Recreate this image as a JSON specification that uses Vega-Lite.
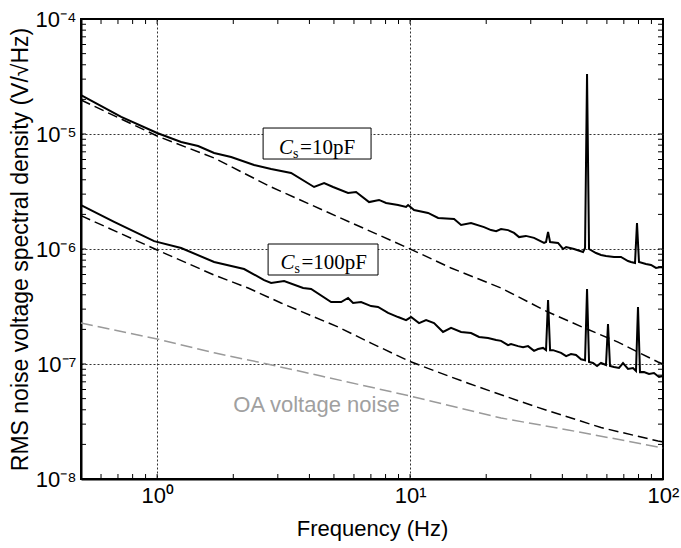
{
  "$schema": "https://vega.github.io/schema/vega-lite/v6.json",
  "width": 582,
  "height": 460,
  "autosize": {"type": "none"},
  "padding": {"left": 81, "top": 19, "right": 18, "bottom": 69},
  "background": "white",
  "config": {
    "view": {"stroke": "#000", "strokeWidth": 2},
    "font": "Liberation Sans",
    "axis": {
      "domainColor": "#000",
      "domainWidth": 2,
      "labelFont": "Liberation Sans",
      "labelFontSize": 22,
      "labelColor": "#000",
      "labelOverlap": false,
      "labelBound": false,
      "labelFlush": false,
      "titleFont": "Liberation Sans",
      "titleFontSize": 22,
      "titleFontWeight": "normal",
      "titleColor": "#000",
      "gridColor": "#333",
      "gridDash": [2, 2],
      "gridWidth": 1
    }
  },
  "datasets": {
    "curves": [
      {"s": "s10", "f": 0.5, "v": 2.18e-5}, {"s": "s10", "f": 0.721, "v": 1.41e-5}, {"s": "s10", "f": 1, "v": 1.02e-5},
      {"s": "s10", "f": 1.244, "v": 8.52e-6}, {"s": "s10", "f": 1.452, "v": 7.86e-6}, {"s": "s10", "f": 1.68, "v": 6.84e-6},
      {"s": "s10", "f": 1.961, "v": 6.31e-6}, {"s": "s10", "f": 2.417, "v": 5.37e-6}, {"s": "s10", "f": 2.823, "v": 4.96e-6},
      {"s": "s10", "f": 3.385, "v": 4.58e-6}, {"s": "s10", "f": 4.174, "v": 3.46e-6}, {"s": "s10", "f": 4.573, "v": 3.75e-6},
      {"s": "s10", "f": 4.962, "v": 3.46e-6}, {"s": "s10", "f": 5.687, "v": 3.07e-6}, {"s": "s10", "f": 6.117, "v": 3.13e-6},
      {"s": "s10", "f": 6.885, "v": 2.56e-6}, {"s": "s10", "f": 7.54, "v": 2.67e-6}, {"s": "s10", "f": 8.037, "v": 2.51e-6},
      {"s": "s10", "f": 8.966, "v": 2.41e-6}, {"s": "s10", "f": 9.643, "v": 2.32e-6}, {"s": "s10", "f": 9.82, "v": 2.41e-6},
      {"s": "s10", "f": 10.37, "v": 2.18e-6}, {"s": "s10", "f": 11.78, "v": 2.06e-6}, {"s": "s10", "f": 12.91, "v": 1.86e-6},
      {"s": "s10", "f": 14.93, "v": 1.82e-6}, {"s": "s10", "f": 15.91, "v": 1.62e-6}, {"s": "s10", "f": 17.42, "v": 1.68e-6},
      {"s": "s10", "f": 19.61, "v": 1.55e-6}, {"s": "s10", "f": 20.9, "v": 1.46e-6}, {"s": "s10", "f": 21.9, "v": 1.43e-6},
      {"s": "s10", "f": 22.89, "v": 1.49e-6}, {"s": "s10", "f": 24.4, "v": 1.46e-6}, {"s": "s10", "f": 25.77, "v": 1.38e-6},
      {"s": "s10", "f": 26.97, "v": 1.27e-6}, {"s": "s10", "f": 28.7, "v": 1.3e-6}, {"s": "s10", "f": 30.91, "v": 1.25e-6},
      {"s": "s10", "f": 33.86, "v": 1.13e-6}, {"s": "s10", "f": 34.48, "v": 1.15e-6}, {"s": "s10", "f": 35.12, "v": 1.41e-6},
      {"s": "s10", "f": 35.77, "v": 1.15e-6}, {"s": "s10", "f": 38.46, "v": 1.13e-6}, {"s": "s10", "f": 40.25, "v": 1.0e-6},
      {"s": "s10", "f": 41.4, "v": 1.04e-6}, {"s": "s10", "f": 44.48, "v": 1.0e-6}, {"s": "s10", "f": 48.29, "v": 9.42e-7},
      {"s": "s10", "f": 49.18, "v": 1.02e-6}, {"s": "s10", "f": 50.08, "v": 3.32e-5}, {"s": "s10", "f": 51.0, "v": 1.0e-6},
      {"s": "s10", "f": 54.35, "v": 9.23e-7}, {"s": "s10", "f": 56.87, "v": 8.87e-7}, {"s": "s10", "f": 59.51, "v": 8.69e-7},
      {"s": "s10", "f": 64.02, "v": 8.52e-7}, {"s": "s10", "f": 68.2, "v": 8.52e-7}, {"s": "s10", "f": 72.73, "v": 7.86e-7},
      {"s": "s10", "f": 74.7, "v": 7.71e-7}, {"s": "s10", "f": 77.5, "v": 7.55e-7}, {"s": "s10", "f": 78.92, "v": 1.68e-6},
      {"s": "s10", "f": 80.36, "v": 7.7e-7}, {"s": "s10", "f": 85.6, "v": 7.41e-7}, {"s": "s10", "f": 89.67, "v": 7.26e-7},
      {"s": "s10", "f": 93.8, "v": 6.84e-7}, {"s": "s10", "f": 98.2, "v": 6.98e-7}, {"s": "s10", "f": 100, "v": 6.84e-7},

      {"s": "s100", "f": 0.5, "v": 2.41e-6}, {"s": "s100", "f": 0.676, "v": 1.72e-6}, {"s": "s100", "f": 0.973, "v": 1.17e-6},
      {"s": "s100", "f": 1.244, "v": 1.02e-6}, {"s": "s100", "f": 1.68, "v": 7.71e-7}, {"s": "s100", "f": 2.207, "v": 6.7e-7},
      {"s": "s100", "f": 2.648, "v": 5.37e-7}, {"s": "s100", "f": 2.823, "v": 5.06e-7}, {"s": "s100", "f": 3.177, "v": 5.27e-7},
      {"s": "s100", "f": 3.777, "v": 4.58e-7}, {"s": "s100", "f": 4.062, "v": 4.49e-7}, {"s": "s100", "f": 4.873, "v": 3.46e-7},
      {"s": "s100", "f": 5.338, "v": 3.46e-7}, {"s": "s100", "f": 5.687, "v": 3.75e-7}, {"s": "s100", "f": 5.952, "v": 3.39e-7},
      {"s": "s100", "f": 6.401, "v": 3.46e-7}, {"s": "s100", "f": 7.012, "v": 3.19e-7}, {"s": "s100", "f": 7.47, "v": 3.13e-7},
      {"s": "s100", "f": 8.185, "v": 2.78e-7}, {"s": "s100", "f": 8.966, "v": 2.56e-7}, {"s": "s100", "f": 9.643, "v": 2.41e-7},
      {"s": "s100", "f": 10.09, "v": 2.56e-7}, {"s": "s100", "f": 10.85, "v": 2.27e-7}, {"s": "s100", "f": 11.57, "v": 2.41e-7},
      {"s": "s100", "f": 12.44, "v": 2.27e-7}, {"s": "s100", "f": 13.5, "v": 1.9e-7}, {"s": "s100", "f": 14.52, "v": 2.06e-7},
      {"s": "s100", "f": 15.91, "v": 1.9e-7}, {"s": "s100", "f": 17.42, "v": 1.86e-7}, {"s": "s100", "f": 18.74, "v": 1.72e-7},
      {"s": "s100", "f": 20.34, "v": 1.68e-7}, {"s": "s100", "f": 21.9, "v": 1.62e-7}, {"s": "s100", "f": 22.89, "v": 1.59e-7},
      {"s": "s100", "f": 24.4, "v": 1.46e-7}, {"s": "s100", "f": 25.07, "v": 1.49e-7}, {"s": "s100", "f": 26.73, "v": 1.43e-7},
      {"s": "s100", "f": 27.97, "v": 1.4e-7}, {"s": "s100", "f": 29.27, "v": 1.43e-7}, {"s": "s100", "f": 30.91, "v": 1.3e-7},
      {"s": "s100", "f": 32.06, "v": 1.35e-7}, {"s": "s100", "f": 33.56, "v": 1.38e-7}, {"s": "s100", "f": 34.48, "v": 1.32e-7},
      {"s": "s100", "f": 35.12, "v": 3.6e-7}, {"s": "s100", "f": 35.77, "v": 1.32e-7}, {"s": "s100", "f": 36.75, "v": 1.32e-7},
      {"s": "s100", "f": 39.53, "v": 1.25e-7}, {"s": "s100", "f": 41.4, "v": 1.17e-7}, {"s": "s100", "f": 43.28, "v": 1.22e-7},
      {"s": "s100", "f": 45.3, "v": 1.2e-7}, {"s": "s100", "f": 47.42, "v": 1.1e-7}, {"s": "s100", "f": 49.18, "v": 1.08e-7},
      {"s": "s100", "f": 50.08, "v": 4.49e-7}, {"s": "s100", "f": 51.0, "v": 1.04e-7}, {"s": "s100", "f": 52.89, "v": 1.02e-7},
      {"s": "s100", "f": 54.85, "v": 9.61e-8}, {"s": "s100", "f": 56.87, "v": 1.02e-7}, {"s": "s100", "f": 59.51, "v": 9.8e-8},
      {"s": "s100", "f": 60.61, "v": 2.23e-7}, {"s": "s100", "f": 61.73, "v": 9.6e-8}, {"s": "s100", "f": 64.02, "v": 9.42e-8},
      {"s": "s100", "f": 66.99, "v": 9.23e-8}, {"s": "s100", "f": 69.49, "v": 1.02e-7}, {"s": "s100", "f": 72.73, "v": 9.05e-8},
      {"s": "s100", "f": 76.1, "v": 9.23e-8}, {"s": "s100", "f": 78.2, "v": 8.7e-8}, {"s": "s100", "f": 79.64, "v": 3.13e-7},
      {"s": "s100", "f": 81.1, "v": 8.5e-8}, {"s": "s100", "f": 84.12, "v": 8.52e-8}, {"s": "s100", "f": 88.05, "v": 8.18e-8},
      {"s": "s100", "f": 92.13, "v": 8.35e-8}, {"s": "s100", "f": 96.43, "v": 7.71e-8}, {"s": "s100", "f": 100, "v": 7.86e-8},

      {"s": "d10", "f": 0.5, "v": 1.975e-5}, {"s": "d10", "f": 1, "v": 9.61e-6}, {"s": "d10", "f": 1.68, "v": 6.18e-6},
      {"s": "d10", "f": 2.823, "v": 3.46e-6}, {"s": "d10", "f": 5.194, "v": 1.9e-6}, {"s": "d10", "f": 9.82, "v": 1.02e-6},
      {"s": "d10", "f": 14.52, "v": 6.84e-7}, {"s": "d10", "f": 22.89, "v": 4.58e-7}, {"s": "d10", "f": 35.12, "v": 2.83e-7},
      {"s": "d10", "f": 48.8, "v": 2.06e-7}, {"s": "d10", "f": 66.39, "v": 1.55e-7}, {"s": "d10", "f": 95.54, "v": 1.04e-7},
      {"s": "d10", "f": 100, "v": 1.0e-7},

      {"s": "d100", "f": 0.5, "v": 1.95e-6}, {"s": "d100", "f": 1, "v": 9.8e-7}, {"s": "d100", "f": 1.68, "v": 5.94e-7},
      {"s": "d100", "f": 2.29, "v": 4.58e-7}, {"s": "d100", "f": 3.09, "v": 3.39e-7}, {"s": "d100", "f": 5.19, "v": 2.1e-7},
      {"s": "d100", "f": 7.01, "v": 1.52e-7}, {"s": "d100", "f": 10, "v": 1.05e-7}, {"s": "d100", "f": 12.9, "v": 8.5e-8},
      {"s": "d100", "f": 16.96, "v": 6.8e-8}, {"s": "d100", "f": 22.89, "v": 5.4e-8}, {"s": "d100", "f": 30.91, "v": 4.3e-8},
      {"s": "d100", "f": 56.87, "v": 2.8e-8}, {"s": "d100", "f": 95.54, "v": 2.14e-8}, {"s": "d100", "f": 100, "v": 2.1e-8},

      {"s": "oa", "f": 0.5, "v": 2.27e-7}, {"s": "oa", "f": 1, "v": 1.65e-7}, {"s": "oa", "f": 1.68, "v": 1.25e-7},
      {"s": "oa", "f": 2.507, "v": 1.04e-7}, {"s": "oa", "f": 3.71, "v": 8.6e-8}, {"s": "oa", "f": 4.45, "v": 7.86e-8},
      {"s": "oa", "f": 10, "v": 5.27e-8}, {"s": "oa", "f": 22.89, "v": 3.39e-8}, {"s": "oa", "f": 42.12, "v": 2.67e-8},
      {"s": "oa", "f": 95.54, "v": 1.9e-8}, {"s": "oa", "f": 100, "v": 1.86e-8}
    ],
    "xticks": [
      {"f": 0.6, "v": 1e-8}, {"f": 0.7, "v": 1e-8}, {"f": 0.8, "v": 1e-8}, {"f": 0.9, "v": 1e-8}, {"f": 1, "v": 1e-8},
      {"f": 2, "v": 1e-8}, {"f": 3, "v": 1e-8}, {"f": 4, "v": 1e-8}, {"f": 5, "v": 1e-8}, {"f": 6, "v": 1e-8},
      {"f": 7, "v": 1e-8}, {"f": 8, "v": 1e-8}, {"f": 9, "v": 1e-8}, {"f": 10, "v": 1e-8}, {"f": 20, "v": 1e-8},
      {"f": 30, "v": 1e-8}, {"f": 40, "v": 1e-8}, {"f": 50, "v": 1e-8}, {"f": 60, "v": 1e-8}, {"f": 70, "v": 1e-8},
      {"f": 80, "v": 1e-8}, {"f": 90, "v": 1e-8}
    ],
    "xticksTop": [
      {"f": 0.6, "v": 1e-4}, {"f": 0.7, "v": 1e-4}, {"f": 0.8, "v": 1e-4}, {"f": 0.9, "v": 1e-4}, {"f": 1, "v": 1e-4},
      {"f": 2, "v": 1e-4}, {"f": 3, "v": 1e-4}, {"f": 4, "v": 1e-4}, {"f": 5, "v": 1e-4}, {"f": 6, "v": 1e-4},
      {"f": 7, "v": 1e-4}, {"f": 8, "v": 1e-4}, {"f": 9, "v": 1e-4}, {"f": 10, "v": 1e-4}, {"f": 20, "v": 1e-4},
      {"f": 30, "v": 1e-4}, {"f": 40, "v": 1e-4}, {"f": 50, "v": 1e-4}, {"f": 60, "v": 1e-4}, {"f": 70, "v": 1e-4},
      {"f": 80, "v": 1e-4}, {"f": 90, "v": 1e-4}
    ],
    "yticksLeft": [
      {"f": 0.5, "v": 2e-8}, {"f": 0.5, "v": 3e-8}, {"f": 0.5, "v": 4e-8}, {"f": 0.5, "v": 5e-8}, {"f": 0.5, "v": 6e-8}, {"f": 0.5, "v": 7e-8}, {"f": 0.5, "v": 8e-8}, {"f": 0.5, "v": 9e-8},
      {"f": 0.5, "v": 1e-7}, {"f": 0.5, "v": 2e-7}, {"f": 0.5, "v": 3e-7}, {"f": 0.5, "v": 4e-7}, {"f": 0.5, "v": 5e-7}, {"f": 0.5, "v": 6e-7}, {"f": 0.5, "v": 7e-7}, {"f": 0.5, "v": 8e-7}, {"f": 0.5, "v": 9e-7},
      {"f": 0.5, "v": 1e-6}, {"f": 0.5, "v": 2e-6}, {"f": 0.5, "v": 3e-6}, {"f": 0.5, "v": 4e-6}, {"f": 0.5, "v": 5e-6}, {"f": 0.5, "v": 6e-6}, {"f": 0.5, "v": 7e-6}, {"f": 0.5, "v": 8e-6}, {"f": 0.5, "v": 9e-6},
      {"f": 0.5, "v": 1e-5}, {"f": 0.5, "v": 2e-5}, {"f": 0.5, "v": 3e-5}, {"f": 0.5, "v": 4e-5}, {"f": 0.5, "v": 5e-5}, {"f": 0.5, "v": 6e-5}, {"f": 0.5, "v": 7e-5}, {"f": 0.5, "v": 8e-5}, {"f": 0.5, "v": 9e-5}
    ],
    "yticksRight": [
      {"f": 100, "v": 2e-8}, {"f": 100, "v": 3e-8}, {"f": 100, "v": 4e-8}, {"f": 100, "v": 5e-8}, {"f": 100, "v": 6e-8}, {"f": 100, "v": 7e-8}, {"f": 100, "v": 8e-8}, {"f": 100, "v": 9e-8},
      {"f": 100, "v": 1e-7}, {"f": 100, "v": 2e-7}, {"f": 100, "v": 3e-7}, {"f": 100, "v": 4e-7}, {"f": 100, "v": 5e-7}, {"f": 100, "v": 6e-7}, {"f": 100, "v": 7e-7}, {"f": 100, "v": 8e-7}, {"f": 100, "v": 9e-7},
      {"f": 100, "v": 1e-6}, {"f": 100, "v": 2e-6}, {"f": 100, "v": 3e-6}, {"f": 100, "v": 4e-6}, {"f": 100, "v": 5e-6}, {"f": 100, "v": 6e-6}, {"f": 100, "v": 7e-6}, {"f": 100, "v": 8e-6}, {"f": 100, "v": 9e-6},
      {"f": 100, "v": 1e-5}, {"f": 100, "v": 2e-5}, {"f": 100, "v": 3e-5}, {"f": 100, "v": 4e-5}, {"f": 100, "v": 5e-5}, {"f": 100, "v": 6e-5}, {"f": 100, "v": 7e-5}, {"f": 100, "v": 8e-5}, {"f": 100, "v": 9e-5}
    ],
    "boxes": [
      {"x1": 2.624, "x2": 7.01, "y1": 6.06e-6, "y2": 1.127e-5},
      {"x1": 2.746, "x2": 7.47, "y1": 5.94e-7, "y2": 1.105e-6}
    ],
    "boxlabels": [
      {"f": 3.035, "v": 6.7e-6, "c": "C", "sub": "s", "rest": "=10pF"},
      {"f": 3.072, "v": 6.64e-7, "c": "C", "sub": "s", "rest": "=100pF"}
    ],
    "oalabel": [
      {"f": 2.0, "v": 3.83e-8, "t": "OA voltage noise"}
    ]
  },
  "layer": [
    {
      "data": {"name": "curves"},
      "transform": [{"filter": "datum.s == 'oa'"}],
      "mark": {"type": "line", "color": "#9a9a9a", "strokeWidth": 1.5, "strokeDash": [12, 5]},
      "encoding": {
        "x": {
          "field": "f", "type": "quantitative",
          "scale": {"type": "log", "domain": [0.5, 100], "nice": false},
          "axis": {
            "orient": "bottom",
            "values": [1, 10, 100],
            "ticks": false,
            "labelExpr": "datum.value == 1 ? '10⁰' : datum.value == 10 ? '10¹' : datum.value == 100 ? '10²' : ''",
            "labelPadding": 6,
            "grid": true,
            "gridOpacity": {"condition": {"test": "datum.value == 1 || datum.value == 10", "value": 1}, "value": 0},
            "title": "Frequency (Hz)",
            "titlePadding": 12
          }
        },
        "y": {
          "field": "v", "type": "quantitative",
          "scale": {"type": "log", "domain": [1e-8, 1e-4], "nice": false},
          "axis": {
            "orient": "left",
            "values": [1e-8, 1e-7, 1e-6, 1e-5, 1e-4],
            "ticks": false,
            "labelExpr": "datum.value == 1e-4 ? '10⁻⁴' : datum.value == 1e-5 ? '10⁻⁵' : datum.value == 1e-6 ? '10⁻⁶' : datum.value == 1e-7 ? '10⁻⁷' : datum.value == 1e-8 ? '10⁻⁸' : ''",
            "labelPadding": 5,
            "grid": true,
            "gridOpacity": {"condition": {"test": "datum.value == 1e-5 || datum.value == 1e-6 || datum.value == 1e-7", "value": 1}, "value": 0},
            "title": "RMS noise voltage spectral density (V/√Hz)",
            "titleFontSize": 23,
            "titlePadding": 3
          }
        }
      }
    },
    {
      "data": {"name": "curves"},
      "transform": [{"filter": "datum.s == 'd10' || datum.s == 'd100'"}],
      "mark": {"type": "line", "color": "#000", "strokeWidth": 1.5, "strokeDash": [10, 5]},
      "encoding": {
        "x": {"field": "f", "type": "quantitative", "scale": {"type": "log", "domain": [0.5, 100], "nice": false}},
        "y": {"field": "v", "type": "quantitative", "scale": {"type": "log", "domain": [1e-8, 1e-4], "nice": false}},
        "detail": {"field": "s"}
      }
    },
    {
      "data": {"name": "curves"},
      "transform": [{"filter": "datum.s == 's10' || datum.s == 's100'"}],
      "mark": {"type": "line", "color": "#000", "strokeWidth": 2},
      "encoding": {
        "x": {"field": "f", "type": "quantitative", "scale": {"type": "log", "domain": [0.5, 100], "nice": false}},
        "y": {"field": "v", "type": "quantitative", "scale": {"type": "log", "domain": [1e-8, 1e-4], "nice": false}},
        "detail": {"field": "s"}
      }
    },
    {
      "data": {"name": "xticks"},
      "mark": {"type": "tick", "orient": "vertical", "size": 5, "thickness": 1, "color": "#000", "opacity": 1, "yOffset": -2.5},
      "encoding": {
        "x": {"field": "f", "type": "quantitative", "scale": {"type": "log", "domain": [0.5, 100], "nice": false}},
        "y": {"field": "v", "type": "quantitative", "scale": {"type": "log", "domain": [1e-8, 1e-4], "nice": false}}
      }
    },
    {
      "data": {"name": "xticksTop"},
      "mark": {"type": "tick", "orient": "vertical", "size": 5, "thickness": 1, "color": "#000", "opacity": 1, "yOffset": 2.5},
      "encoding": {
        "x": {"field": "f", "type": "quantitative", "scale": {"type": "log", "domain": [0.5, 100], "nice": false}},
        "y": {"field": "v", "type": "quantitative", "scale": {"type": "log", "domain": [1e-8, 1e-4], "nice": false}}
      }
    },
    {
      "data": {"name": "yticksLeft"},
      "mark": {"type": "tick", "orient": "horizontal", "size": 5, "thickness": 1, "color": "#000", "opacity": 1, "xOffset": 2.5},
      "encoding": {
        "x": {"field": "f", "type": "quantitative", "scale": {"type": "log", "domain": [0.5, 100], "nice": false}},
        "y": {"field": "v", "type": "quantitative", "scale": {"type": "log", "domain": [1e-8, 1e-4], "nice": false}}
      }
    },
    {
      "data": {"name": "yticksRight"},
      "mark": {"type": "tick", "orient": "horizontal", "size": 5, "thickness": 1, "color": "#000", "opacity": 1, "xOffset": -2.5},
      "encoding": {
        "x": {"field": "f", "type": "quantitative", "scale": {"type": "log", "domain": [0.5, 100], "nice": false}},
        "y": {"field": "v", "type": "quantitative", "scale": {"type": "log", "domain": [1e-8, 1e-4], "nice": false}}
      }
    },
    {
      "data": {"name": "boxes"},
      "mark": {"type": "rect", "fill": "white", "stroke": "#000", "strokeWidth": 1},
      "encoding": {
        "x": {"field": "x1", "type": "quantitative", "scale": {"type": "log", "domain": [0.5, 100], "nice": false}},
        "x2": {"field": "x2"},
        "y": {"field": "y1", "type": "quantitative", "scale": {"type": "log", "domain": [1e-8, 1e-4], "nice": false}},
        "y2": {"field": "y2"}
      }
    },
    {
      "data": {"name": "boxlabels"},
      "mark": {"type": "text", "font": "Liberation Serif", "fontSize": 21, "fontStyle": "italic", "align": "left", "baseline": "alphabetic", "color": "#000"},
      "encoding": {
        "x": {"field": "f", "type": "quantitative", "scale": {"type": "log", "domain": [0.5, 100], "nice": false}},
        "y": {"field": "v", "type": "quantitative", "scale": {"type": "log", "domain": [1e-8, 1e-4], "nice": false}},
        "text": {"field": "c"}
      }
    },
    {
      "data": {"name": "boxlabels"},
      "mark": {"type": "text", "font": "Liberation Serif", "fontSize": 14, "align": "left", "baseline": "alphabetic", "dx": 14, "dy": 4, "color": "#000"},
      "encoding": {
        "x": {"field": "f", "type": "quantitative", "scale": {"type": "log", "domain": [0.5, 100], "nice": false}},
        "y": {"field": "v", "type": "quantitative", "scale": {"type": "log", "domain": [1e-8, 1e-4], "nice": false}},
        "text": {"field": "sub"}
      }
    },
    {
      "data": {"name": "boxlabels"},
      "mark": {"type": "text", "font": "Liberation Serif", "fontSize": 21, "align": "left", "baseline": "alphabetic", "dx": 21, "color": "#000"},
      "encoding": {
        "x": {"field": "f", "type": "quantitative", "scale": {"type": "log", "domain": [0.5, 100], "nice": false}},
        "y": {"field": "v", "type": "quantitative", "scale": {"type": "log", "domain": [1e-8, 1e-4], "nice": false}},
        "text": {"field": "rest"}
      }
    },
    {
      "data": {"name": "oalabel"},
      "mark": {"type": "text", "font": "Liberation Sans", "fontSize": 22, "align": "left", "baseline": "alphabetic", "color": "#a0a0a0"},
      "encoding": {
        "x": {"field": "f", "type": "quantitative", "scale": {"type": "log", "domain": [0.5, 100], "nice": false}},
        "y": {"field": "v", "type": "quantitative", "scale": {"type": "log", "domain": [1e-8, 1e-4], "nice": false}},
        "text": {"field": "t"}
      }
    }
  ]
}
